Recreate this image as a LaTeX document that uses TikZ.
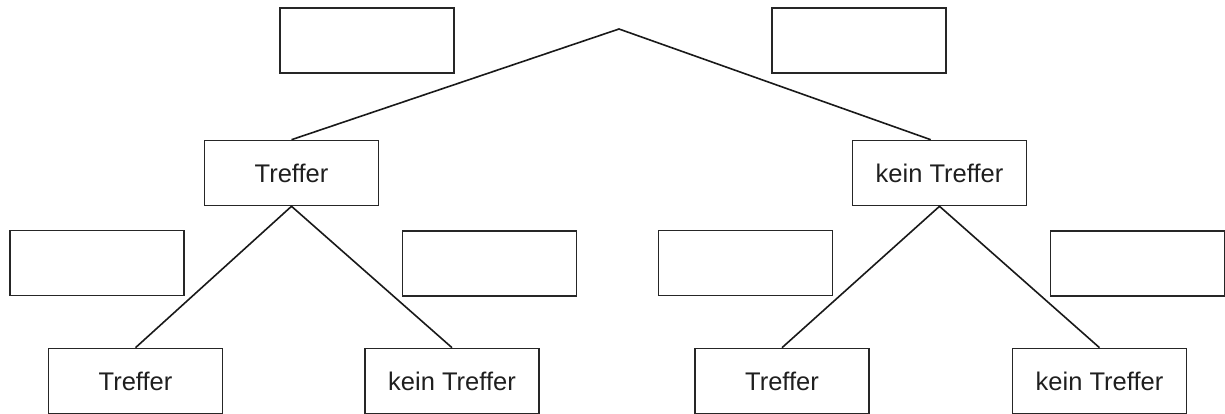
\documentclass[tikz,border=0pt]{standalone}
\usepackage{fontspec}
\setmainfont{Liberation Sans}
\usetikzlibrary{calc}
\begin{document}
\begin{tikzpicture}[x=1pt,y=-1pt,
  box/.style={draw=black!85, line width=1.6pt, rectangle, minimum width=174pt, minimum height=65pt,
    inner sep=0pt, font=\fontsize{25.5}{30}\selectfont, text=black!88},
  branch/.style={draw=black!90, line width=1.6pt}]
  \useasboundingbox (0,0) rectangle (1225,414);

  % root of the tree
  \coordinate (root) at (619,29);

  % first level
  \node[box] (t1) at (291.5,173) {Treffer};
  \node[box] (k1) at (939.5,173) {kein Treffer};

  % empty answer boxes for the probabilities
  \node[box] (e1) at (367,40.5) {};
  \node[box] (e2) at (859,40.5) {};
  \node[box] (e3) at (97,263) {};
  \node[box] (e4) at (489.5,263.5) {};
  \node[box] (e5) at (745.5,263) {};
  \node[box] (e6) at (1137.5,263.5) {};

  % second level
  \node[box] (b1) at (135.5,381) {Treffer};
  \node[box] (b2) at (452,381) {kein Treffer};
  \node[box] (b3) at (782,381) {Treffer};
  \node[box] (b4) at (1099.5,381) {kein Treffer};

  % branches
  \draw[branch] (t1.north) -- (root) -- ($(k1.north west)!0.45!(k1.north east)$);
  \draw[branch] (b1.north) -- (t1.south) -- (b2.north);
  \draw[branch] (b3.north) -- (k1.south) -- (b4.north);
\end{tikzpicture}
\end{document}
